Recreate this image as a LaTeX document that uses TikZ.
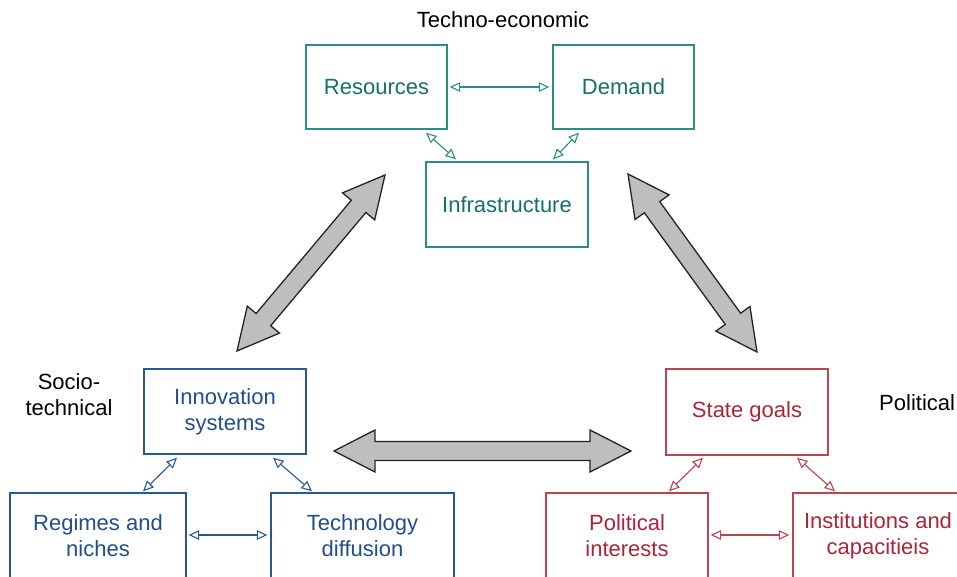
\documentclass[tikz,border=0pt]{standalone}
\usepackage{fontspec}
\setmainfont{Liberation Sans}
\usetikzlibrary{arrows.meta,calc}
\definecolor{tealT}{RGB}{22,112,106}
\definecolor{tealB}{RGB}{45,140,134}
\definecolor{blueT}{RGB}{32,78,140}
\definecolor{blueB}{RGB}{40,88,150}
\definecolor{redT}{RGB}{172,36,56}
\definecolor{redB}{RGB}{188,68,80}
\definecolor{fatfill}{RGB}{190,190,190}
\definecolor{fatline}{RGB}{35,35,35}
\newcommand\fatarrow[2]{%
\draw[fat] (#1)
 -- ($(#1)!41pt!(#2)!21pt!90:(#2)$)
 -- ($(#1)!41pt!(#2)!9.5pt!90:(#2)$)
 -- ($(#2)!41pt!(#1)!9.5pt!-90:(#1)$)
 -- ($(#2)!41pt!(#1)!21pt!-90:(#1)$)
 -- (#2)
 -- ($(#2)!41pt!(#1)!21pt!90:(#1)$)
 -- ($(#2)!41pt!(#1)!9.5pt!90:(#1)$)
 -- ($(#1)!41pt!(#2)!9.5pt!-90:(#2)$)
 -- ($(#1)!41pt!(#2)!21pt!-90:(#2)$)
 -- cycle;}
\begin{document}
\begin{tikzpicture}[x=1pt,y=-1pt,
  txt/.style={font=\fontsize{22}{26}\selectfont, align=center, inner sep=0pt},
  box/.style={txt, draw, line width=1.4pt, minimum width=#1},
  tbox/.style={box=#1, draw=tealB, text=tealT, minimum height=84pt},
  bbox/.style={box=#1, draw=blueB, text=blueT, minimum height=86pt},
  rbox/.style={box=#1, draw=redB, text=redT, minimum height=86pt},
  conn/.style={line width=1.1pt, {Triangle[open,length=10.5pt,width=9.5pt]}-{Triangle[open,length=10.5pt,width=9.5pt]}},
  fat/.style={fill=fatfill, draw=fatline, line width=1.3pt, line join=miter}]
\useasboundingbox (0,0) rectangle (957,577);
\clip (0,0) rectangle (957,577);
% labels
\node[txt] (lte) at (503,20) {Techno-economic};
\node[txt] (lst) at (69,395) {Socio-\\technical};
\node[txt, anchor=west] (lpo) at (879,403) {Political};
% techno-economic
\node[tbox=141pt] (res) at (376.5,87) {Resources};
\node[tbox=141pt] (dem) at (623.5,87) {Demand};
\node[tbox=162pt, minimum height=85pt] (inf) at (507,204.5) {Infrastructure};
\draw[conn, draw=tealB] ([xshift=2pt]res.east) -- ([xshift=-3pt]dem.west);
\draw[conn, draw=tealB] ([xshift=49.5pt,yshift=-3pt]res.south) -- ([xshift=-51pt,yshift=2pt]inf.north);
\draw[conn, draw=tealB] ([xshift=-44.5pt,yshift=-3pt]dem.south) -- ([xshift=46pt,yshift=2pt]inf.north);
% socio-technical
\node[bbox=162pt, minimum height=85pt] (ino) at (225,411.5) {Innovation\\systems};
\node[bbox=176pt] (reg) at (98,536) {Regimes and\\niches};
\node[bbox=183pt] (tec) at (362.5,536) {Technology\\diffusion};
\draw[conn, draw=blueB] ([xshift=-48pt,yshift=-3pt]ino.south) -- ([xshift=45pt,yshift=1pt]reg.north);
\draw[conn, draw=blueB] ([xshift=48pt,yshift=-3pt]ino.south) -- ([xshift=-50.5pt,yshift=1pt]tec.north);
\draw[conn, draw=blueB] ([xshift=2pt,yshift=1pt]reg.east) -- ([xshift=-3pt,yshift=1pt]tec.west);
% political
\node[rbox=162pt] (sta) at (747,412) {State goals};
\node[rbox=162pt] (pol) at (627,536) {Political\\interests};
\node[rbox=170pt] (ins) at (878,536) {Institutions and\\capacitieis};
\draw[conn, draw=redB] ([xshift=-44pt,yshift=-2pt]sta.south) -- ([xshift=42pt,yshift=1pt]pol.north);
\draw[conn, draw=redB] ([xshift=50pt,yshift=-2pt]sta.south) -- ([xshift=-43pt,yshift=1pt]ins.north);
\draw[conn, draw=redB] ([xshift=2pt,yshift=1pt]pol.east) -- ([xshift=-3pt,yshift=1pt]ins.west);
% big arrows
\coordinate (la1) at (237,351);
\coordinate (la2) at (385,175);
\coordinate (ra1) at (628,174);
\coordinate (ra2) at (757,352);
\coordinate (ha1) at (334,451);
\coordinate (ha2) at (631,451);
\fatarrow{la1}{la2}
\fatarrow{ra1}{ra2}
\fatarrow{ha1}{ha2}
\end{tikzpicture}
\end{document}
